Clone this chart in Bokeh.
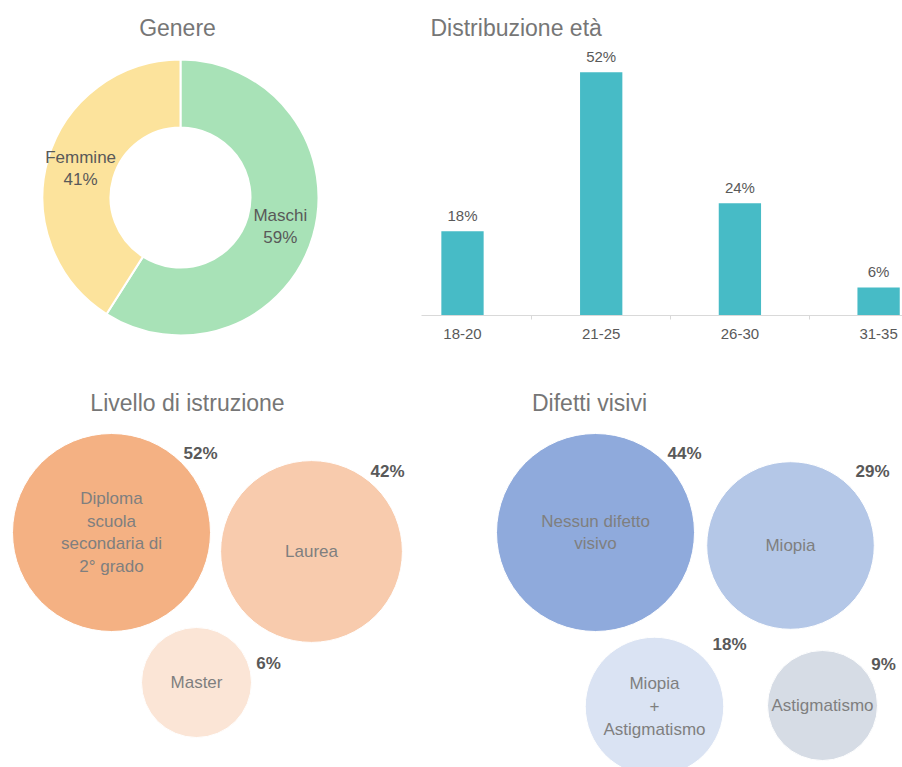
import math

from bokeh.core.properties import value
from bokeh.embed import file_html
from bokeh.layouts import column, row
from bokeh.models import ColumnDataSource, FixedTicker, Range1d
from bokeh.plotting import figure
from bokeh.resources import INLINE

# ---- data -------------------------------------------------------------
gender_labels = ["Maschi", "Femmine"]
gender_values = [59, 41]

age_groups = ["18-20", "21-25", "26-30", "31-35"]
age_values = [18, 52, 24, 6]

edu_labels = ["Diploma\nscuola\nsecondaria di\n2° grado", "Laurea", "Master"]
edu_values = [52, 42, 6]

vision_labels = ["Nessun difetto\nvisivo", "Miopia", "Miopia\n+\nAstigmatismo", "Astigmatismo"]
vision_values = [44, 29, 18, 9]

# ---- styling ----------------------------------------------------------
FONT = "Liberation Sans"
TITLE_COLOR = "#767676"
DARK_TEXT = "#595959"
SOFT_TEXT = "#7F7F7F"

gender_colors = ["#A8E2B7", "#FCE39C"]
bar_color = "#47BBC6"
edu_colors = ["#F4B183", "#F8CBAD", "#FBE5D6"]
vision_colors = ["#8FAADC", "#B4C7E7", "#DAE3F3", "#D6DCE5"]

TOP_H = 365
BAR_FRAME_H = 315          # bar chart baseline
BOTTOM_H = 402
DONUT_W = 421
BAR_W = 481
BUBBLE_W = 451


def blank_figure(w, h):
    p = figure(width=w, height=h, x_range=Range1d(0, w), y_range=Range1d(0, h),
               output_backend="svg", toolbar_location=None,
               x_axis_location=None, y_axis_location=None, min_border=0)
    p.grid.grid_line_color = None
    p.outline_line_color = None
    p.background_fill_color = "white"
    return p


def add_title(p, text, x, y, align="center"):
    p.text(x=[x], y=[y], text=[text], text_font=value(FONT), text_font_size="23px",
           text_color=TITLE_COLOR, text_align=align, text_baseline="middle")


# ---- donut: Genere ------------------------------------------------------
donut = blank_figure(DONUT_W, TOP_H)
cx, cy = 180, TOP_H - 197
r_in, r_out = 70, 138
total = sum(gender_values)
cum = [0]
for v in gender_values:
    cum.append(cum[-1] + v)
starts = [math.pi / 2 - 2 * math.pi * cum[i] / total for i in range(len(gender_values))]
ends = [math.pi / 2 - 2 * math.pi * cum[i + 1] / total for i in range(len(gender_values))]
donut.annular_wedge(x=cx, y=cy, inner_radius=r_in, outer_radius=r_out,
                    start_angle=starts, end_angle=ends, direction="clock",
                    fill_color=gender_colors, line_color="white", line_width=2)
r_mid = (r_in + r_out) / 2
mids = [(s + e) / 2 for s, e in zip(starts, ends)]
donut.text(x=[cx + r_mid * math.cos(a) for a in mids],
           y=[cy + r_mid * math.sin(a) for a in mids],
           text=[f"{lab}\n{v}%" for lab, v in zip(gender_labels, gender_values)],
           text_font=value(FONT), text_font_size="17px", text_color=DARK_TEXT,
           text_align="center", text_baseline="middle", text_line_height=1.15)
add_title(donut, "Genere", 177, TOP_H - 27)

# ---- bars: Distribuzione età -------------------------------------------
PX_PER_UNIT = 138.7
PX_PER_PCT = 4.68
x0 = 0.5 - (462 - DONUT_W) / PX_PER_UNIT
y_top = BAR_FRAME_H / PX_PER_PCT
bars = figure(width=BAR_W, height=TOP_H,
              x_range=Range1d(x0, x0 + BAR_W / PX_PER_UNIT),
              y_range=Range1d(0, y_top),
              output_backend="svg", toolbar_location=None,
              y_axis_location=None, min_border=0,
              min_border_bottom=TOP_H - BAR_FRAME_H)
bars.grid.grid_line_color = None
bars.outline_line_color = None
centers = [i + 0.5 for i in range(len(age_groups))]
src = ColumnDataSource(dict(x=centers, top=age_values,
                            label=[f"{v}%" for v in age_values]))
bars.vbar(x="x", top="top", width=0.305, source=src, fill_color=bar_color,
          line_color=None)
bars.text(x="x", y="top", text="label", source=src, text_font=value(FONT),
          text_font_size="15px", text_color=DARK_TEXT, text_align="center",
          text_baseline="bottom", y_offset=-7)
ax = bars.xaxis[0]
ax.ticker = FixedTicker(ticks=centers, minor_ticks=[i for i in range(1, len(age_groups))])
ax.major_label_overrides = {c: g for c, g in zip(centers, age_groups)}
ax.major_tick_in = 0
ax.major_tick_out = 0
ax.minor_tick_in = 0
ax.minor_tick_out = 4
ax.minor_tick_line_color = "#D9D9D9"
ax.axis_line_color = "#D9D9D9"
ax.major_label_text_font = FONT
ax.major_label_text_font_size = "15px"
ax.major_label_text_color = DARK_TEXT
ax.major_label_standoff = 9
bars.text(x=[x0 + (430 - DONUT_W) / PX_PER_UNIT], y=[(BAR_FRAME_H - 27) / PX_PER_PCT],
          text=["Distribuzione età"], text_font=value(FONT), text_font_size="23px",
          text_color=TITLE_COLOR, text_align="left", text_baseline="middle")


# ---- bubbles --------------------------------------------------------------
R_MAX, R_MIN = 99, 55


def bubble_radius(values):
    vmax = max(values)
    return [max(R_MIN, R_MAX * (v / vmax) ** 0.4) for v in values]


def bubble_panel(left, title, title_x, labels, values, colors, centers, tags):
    p = blank_figure(BUBBLE_W, BOTTOM_H)
    to_y = lambda yy: TOP_H + BOTTOM_H - yy
    xs = [c[0] - left for c in centers]
    ys = [to_y(c[1]) for c in centers]
    p.circle(x=xs, y=ys, radius=bubble_radius(values), fill_color=colors,
             line_color="white", line_width=1)
    p.text(x=xs, y=ys, text=labels, text_font=value(FONT), text_font_size="17px",
           text_color=SOFT_TEXT, text_align="center", text_baseline="middle",
           text_line_height=1.2)
    p.text(x=[t[0] - left for t in tags], y=[to_y(t[1]) for t in tags],
           text=[f"{v}%" for v in values], text_font=value(FONT), text_font_size="17px",
           text_font_style="bold", text_color=DARK_TEXT, text_align="center",
           text_baseline="middle")
    add_title(p, title, title_x - left, to_y(402))
    return p


edu_centers = [(111, 532), (311, 551), (196, 682)]
edu_tags = [(200, 453), (387, 471), (268, 663)]
edu = bubble_panel(0, "Livello di istruzione", 187, edu_labels, edu_values,
                   edu_colors, edu_centers, edu_tags)

vision_centers = [(595, 532), (790, 545), (654, 706), (822, 705)]
vision_tags = [(684, 453), (872, 471), (729, 644), (883, 664)]
vision = bubble_panel(BUBBLE_W, "Difetti visivi", 589, vision_labels, vision_values,
                      vision_colors, vision_centers, vision_tags)

# the donut sits in its own column so its frame keeps the full panel height
layout = column(row(column(donut), bars), row(edu, vision))
open("out.html", "w").write(file_html(layout, INLINE))
